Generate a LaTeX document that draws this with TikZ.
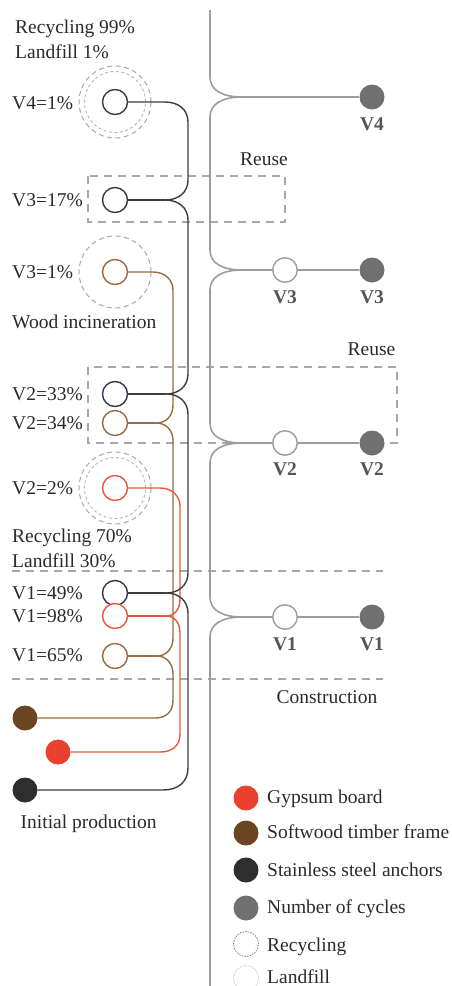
\documentclass[tikz,border=0pt]{standalone}
\usepackage{fontspec}
\setmainfont{Liberation Serif}
\definecolor{txt}{HTML}{2A2A2A}
\definecolor{maingray}{HTML}{9C9C9C}
\definecolor{blk}{HTML}{3C3C3C}
\definecolor{brn}{HTML}{9A6B3E}
\definecolor{rd}{HTML}{E5573E}
\definecolor{dashg}{HTML}{A8A8A8}
\definecolor{dotred}{HTML}{E8412F}
\definecolor{dotbrn}{HTML}{6B4423}
\definecolor{dotblk}{HTML}{2E2E2E}
\definecolor{dotgray}{HTML}{707070}
\definecolor{vgray}{HTML}{555555}
\begin{document}
\begin{tikzpicture}[x=1pt,y=-1pt,
  lbl/.style={anchor=base west, inner sep=0, text=txt, font=\fontsize{19.5}{23}\selectfont},
  vlbl/.style={anchor=base, inner sep=0, text=vgray, font=\fontsize{19.5}{23}\selectfont\bfseries},
  mat/.style={circle, minimum size=25pt, inner sep=0, line width=1.4pt, fill=white},
  sdot/.style={circle, minimum size=25pt, inner sep=0, draw=none},
  opn/.style={circle, minimum size=24.5pt, inner sep=0, draw=maingray, line width=1.4pt, fill=white},
  mainln/.style={draw=maingray, line width=1.6pt},
  blkln/.style={draw=blk, line width=1.4pt},
  brnln/.style={draw=brn, line width=1.4pt},
  rdln/.style={draw=rd, line width=1.4pt},
  dsh/.style={draw=dashg, line width=1.4pt, dash pattern=on 8pt off 6pt},
  rcy/.style={circle, inner sep=0, minimum size=72pt, draw=dashg, line width=1pt, dash pattern=on 5pt off 3.5pt},
  lfl/.style={circle, inner sep=0, minimum size=61pt, draw=dashg!85, line width=0.9pt, dash pattern=on 3pt off 2.5pt},
]
\useasboundingbox (0,0) rectangle (451,986);

% dashed frames and separators
\draw[dsh] (88,176) rectangle (285,222);
\draw[dsh] (88,367) rectangle (397,443);
\draw[dsh] (12,571) -- (383,571);
\draw[dsh] (12,679) -- (383,679);

% dashed circles
\node[rcy] (r4) at (115,102) {};
\node[lfl] (f4) at (115,102) {};
\node[rcy] (r3) at (115,272) {};
\node[rcy] (r2) at (115,488) {};
\node[lfl] (f2) at (115,488) {};

% material circles
\node[mat, draw=blk] (c4k) at (115,102) {};
\node[mat, draw=blk] (c3k) at (115,200) {};
\node[mat, draw=brn] (c3b) at (115,272) {};
\node[mat, draw=blk!90!blue] (c2k) at (115,394) {};
\node[mat, draw=brn] (c2b) at (115,423) {};
\node[mat, draw=rd] (c2r) at (115,488) {};
\node[mat, draw=blk!90!blue] (c1k) at (115,593) {};
\node[mat, draw=rd] (c1r) at (115,616) {};
\node[mat, draw=brn] (c1b) at (115,656) {};

% initial production dots
\node[sdot, fill=dotbrn] (pb) at (25,718) {};
\node[sdot, fill=dotred] (pr) at (58,752) {};
\node[sdot, fill=dotblk] (pk) at (25,790) {};

% junction coordinates
\coordinate (jk3) at (165,200);
\coordinate (jk2) at (166,394);
\coordinate (jk1) at (166,593);
\coordinate (jb2) at (156,423);
\coordinate (jb1) at (157,656);
\coordinate (jr1) at (166,616);

% brown line
\draw[brnln] (c3b.east) -- (153,272) .. controls (165,272) and (173,280) .. (173,290) -- (173,405)
  .. controls (173,416) and (166,423) .. (jb2) .. controls (166,423) and (173,430) .. (173,441)
  -- (173,638) .. controls (173,649) and (166,656) .. (jb1) .. controls (166,656) and (173,663) .. (173,674)
  -- (173,700) .. controls (173,712) and (166,718) .. (155,718) -- (pb.east);
\draw[brnln] (c2b.east) -- (jb2);
\draw[brnln] (c1b.east) -- (jb1);

% red line
\draw[rdln] (c2r.east) -- (160,488) .. controls (172,488) and (180,496) .. (180,506) -- (180,599)
  .. controls (180,610) and (174,616) .. (jr1) .. controls (174,616) and (180,622) .. (180,633)
  -- (180,734) .. controls (180,746) and (172,752) .. (160,752) -- (pr.east);
\draw[rdln] (c1r.east) -- (jr1);

% black line
\draw[blkln] (c4k.east) -- (165,102) .. controls (179,102) and (188,110) .. (188,122) -- (188,180)
  .. controls (188,192) and (179,200) .. (jk3) .. controls (179,200) and (188,208) .. (188,220)
  -- (188,374) .. controls (188,386) and (179,394) .. (jk2) .. controls (179,394) and (188,402) .. (188,414)
  -- (188,573) .. controls (188,585) and (179,593) .. (jk1) .. controls (179,593) and (188,601) .. (188,613)
  -- (188,768) .. controls (188,782) and (178,790) .. (163,790) -- (pk.east);
\draw[blkln] (c3k.east) -- (jk3);
\draw[blkln] (c2k.east) -- (jk2);
\draw[blkln] (c1k.east) -- (jk1);

% main line
\coordinate (m4) at (242,97);
\coordinate (m3) at (242,270);
\coordinate (m2) at (242,443);
\coordinate (m1) at (242,617);
\draw[mainln] (210,10) -- (210,77) .. controls (210,90) and (222,97) .. (m4)
  .. controls (222,97) and (210,104) .. (210,117) -- (210,250)
  .. controls (210,263) and (222,270) .. (m3) .. controls (222,270) and (210,277) .. (210,290) -- (210,423)
  .. controls (210,436) and (222,443) .. (m2) .. controls (222,443) and (210,450) .. (210,463) -- (210,597)
  .. controls (210,610) and (222,617) .. (m1) .. controls (222,617) and (210,624) .. (210,637) -- (210,986);

\node[opn] (o3) at (285,270) {};
\node[opn] (o2) at (285,443) {};
\node[opn] (o1) at (285,617) {};
\node[sdot, fill=dotgray] (d4) at (372,97) {};
\node[sdot, fill=dotgray] (d3) at (372,270) {};
\node[sdot, fill=dotgray] (d2) at (372,443) {};
\node[sdot, fill=dotgray] (d1) at (372,617) {};
\draw[mainln] (m4) -- (d4.west);
\draw[mainln] (m3) -- (o3.west);
\draw[mainln] (o3.east) -- (d3.west);
\draw[mainln] (m2) -- (o2.west);
\draw[mainln] (o2.east) -- (d2.west);
\draw[mainln] (m1) -- (o1.west);
\draw[mainln] (o1.east) -- (d1.west);

% right labels
\node[vlbl] (vd4) at (372,130.5) {V4};
\node[vlbl] (vo3) at (285,303) {V3};
\node[vlbl] (vd3) at (372,303) {V3};
\node[vlbl] (vo2) at (285,475.5) {V2};
\node[vlbl] (vd2) at (372,475.5) {V2};
\node[vlbl] (vo1) at (285,650) {V1};
\node[vlbl] (vd1) at (372,650) {V1};

% left labels
\node[lbl] (t1) at (15,33.5) {Recycling 99\%};
\node[lbl] (t2) at (15,58) {Landfill 1\%};
\node[lbl] (t3) at (12,109) {V4=1\%};
\node[lbl] (t4) at (12,206.5) {V3=17\%};
\node[lbl] (t5) at (12,278.5) {V3=1\%};
\node[lbl] (t6) at (12,328) {Wood incineration};
\node[lbl] (t7) at (12,400.5) {V2=33\%};
\node[lbl] (t8) at (12,429.5) {V2=34\%};
\node[lbl] (t9) at (12,494.5) {V2=2\%};
\node[lbl] (t10) at (12,542) {Recycling 70\%};
\node[lbl] (t11) at (12,567) {Landfill 30\%};
\node[lbl] (t12) at (12,599.5) {V1=49\%};
\node[lbl] (t13) at (12,622.5) {V1=98\%};
\node[lbl] (t14) at (12,661.5) {V1=65\%};
\node[lbl, anchor=base] (t15) at (327,703) {Construction};
\node[lbl] (t16) at (20.5,828) {Initial production};
\node[lbl, anchor=base] (t17) at (264,165) {Reuse};
\node[lbl, anchor=base] (t18) at (371.5,355) {Reuse};

% legend
\node[sdot, fill=dotred] (g1) at (246,798) {};
\node[sdot, fill=dotbrn] (g2) at (246,833) {};
\node[sdot, fill=dotblk] (g3) at (246,870) {};
\node[sdot, fill=dotgray] (g4) at (246,908) {};
\node[circle, minimum size=25pt, inner sep=0, draw=gray, line width=0.8pt, dash pattern=on 1.5pt off 1.2pt] (g5) at (246,944) {};
\node[circle, minimum size=25pt, inner sep=0, draw=gray!45, line width=0.8pt, dash pattern=on 1.5pt off 1.2pt] (g6) at (246,978) {};
\node[lbl] (e1) at (267,803.3) {Gypsum board};
\node[lbl] (e2) at (267,838.3) {Softwood timber frame};
\node[lbl] (e3) at (267,876.7) {Stainless steel anchors};
\node[lbl] (e4) at (267,913.3) {Number of cycles};
\node[lbl] (e5) at (267,951.7) {Recycling};
\node[lbl] (e6) at (267,983.5) {Landfill};
\end{tikzpicture}
\end{document}
